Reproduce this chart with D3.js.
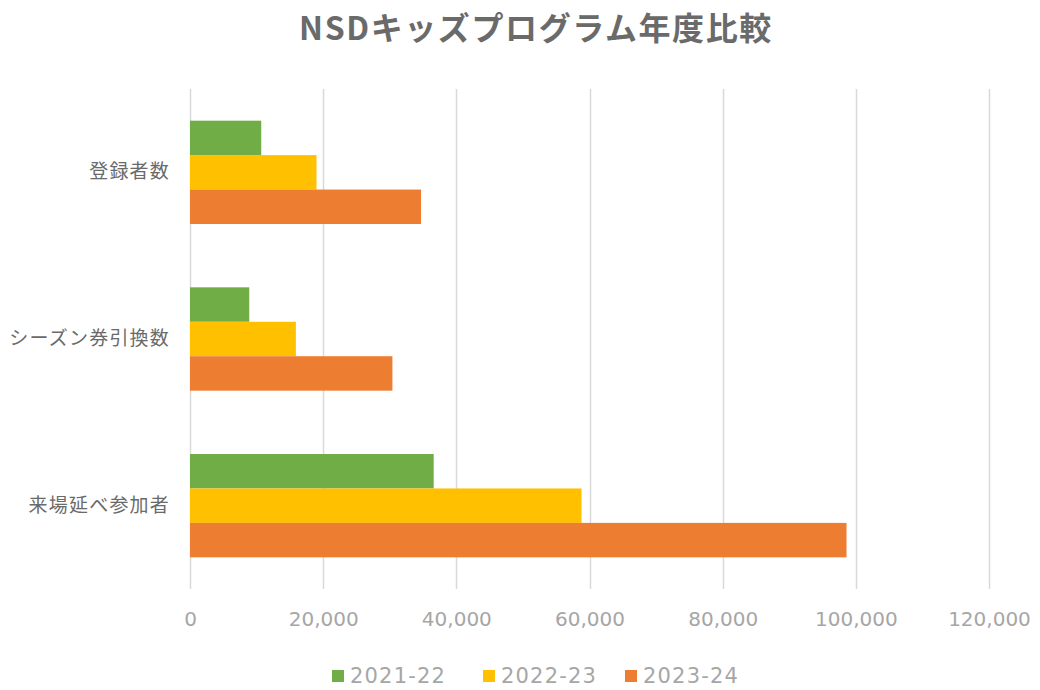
<!DOCTYPE html>
<html><head><meta charset="utf-8">
<script src="https://cdn.jsdelivr.net/npm/d3@7"></script>
<style>body{margin:0;background:#fff}svg{display:block}</style>
</head><body>
<svg id="c" width="1040" height="690"></svg>
<script>
const title = "NSDキッズプログラム年度比較";
const categories = ["登録者数", "シーズン券引換数", "来場延べ参加者"];
const seriesNames = ["2021-22", "2022-23", "2023-24"];
const values2021 = [10700, 8900, 36600];
const values2022 = [19000, 15900, 58800];
const values2023 = [34700, 30400, 98600];
const tickValues = [0, 20000, 40000, 60000, 80000, 100000, 120000];
const colors = ["#70ad47", "#ffc000", "#ed7d31"];

const seriesValues = [values2021, values2022, values2023];
const svg = d3.select("#c");
const x = d3.scaleLinear().domain([0, 120000]).range([190, 989]);
const y = d3.scaleBand().domain(categories).range([89, 589]).paddingInner(0.38).paddingOuter(0.19);
const yi = d3.scaleBand().domain(seriesNames).range([0, y.bandwidth()]);
const color = d3.scaleOrdinal().domain(seriesNames).range(colors);
const CJK = "'Noto Sans CJK JP','Noto Sans',sans-serif";

// title
svg.append("text").attr("x", 536).attr("y", 40).attr("text-anchor", "middle")
  .attr("font-family", CJK).attr("font-weight", "bold").attr("font-size", 32)
  .attr("letter-spacing", 1.6).attr("fill", "#6a6a6a").text(title);

// gridlines
svg.append("g").selectAll("line").data(tickValues).join("line")
  .attr("x1", d => Math.round(x(d)) + 0.5).attr("x2", d => Math.round(x(d)) + 0.5)
  .attr("y1", 89).attr("y2", 589).attr("stroke", "#d9d9d9").attr("stroke-width", 1.5);

// x axis labels
const xAxis = d3.axisBottom(x).tickValues(tickValues).tickSize(0).tickPadding(0)
  .tickFormat(d3.format(","));
const gx = svg.append("g").attr("transform", "translate(0,612)").call(xAxis);
gx.select(".domain").remove();
gx.selectAll("text").attr("font-family", "'DejaVu Sans',sans-serif").attr("font-size", 20)
  .attr("fill", "#a6a6a6").attr("dy", "0.71em");

// y labels
const yAxis = d3.axisLeft(y).tickSize(0).tickPadding(0);
const gy = svg.append("g").attr("transform", "translate(170,0)").call(yAxis);
gy.select(".domain").remove();
gy.selectAll("text").attr("font-family", CJK).attr("font-size", 19)
  .attr("letter-spacing", 1.2).attr("fill", "#6a6a6a");

// bars
const groups = svg.append("g").selectAll("g").data(categories).join("g")
  .attr("transform", d => `translate(0,${y(d)})`);
groups.selectAll("rect").data((c, ci) => seriesNames.map((s, si) => ({s, v: seriesValues[si][ci]})))
  .join("rect")
  .attr("x", x(0)).attr("y", d => yi(d.s)).attr("height", yi.bandwidth())
  .attr("width", d => x(d.v) - x(0)).attr("fill", d => color(d.s));

// legend
const legendX = [332, 483, 625];
const lg = svg.append("g").selectAll("g").data(seriesNames).join("g")
  .attr("transform", (d, i) => `translate(${legendX[i]},676)`);
lg.append("rect").attr("x", 0).attr("y", -6).attr("width", 12).attr("height", 12)
  .attr("fill", d => color(d));
lg.append("text").attr("x", 18).attr("y", 0).attr("dy", "0.35em")
  .attr("font-family", "'DejaVu Sans',sans-serif").attr("font-size", 21).attr("letter-spacing", 1.2)
  .attr("fill", "#a6a6a6").text(d => d);
</script>
</body></html>
